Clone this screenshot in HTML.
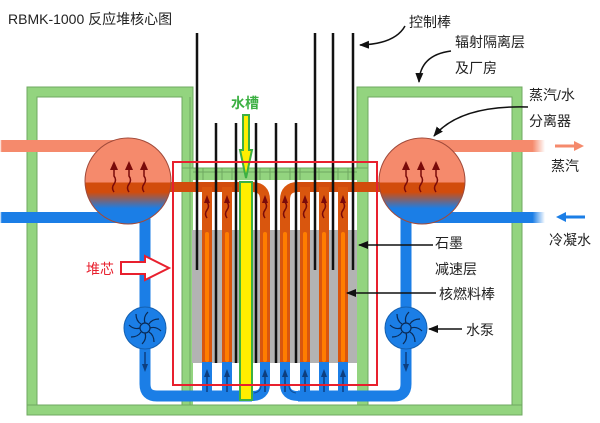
<!DOCTYPE html>
<html><head><meta charset="utf-8"><style>
body{margin:0;background:#fff}
svg{display:block}
text{font-family:"Liberation Sans","Noto Sans CJK SC",sans-serif;font-size:14px;fill:#222}
</style></head><body>
<svg width="600" height="423" viewBox="0 0 600 423" xmlns="http://www.w3.org/2000/svg">
<defs>
<linearGradient id="drum" x1="0" y1="0" x2="0" y2="1">
<stop offset="0" stop-color="#f58a6c"/><stop offset="0.52" stop-color="#f58a6c"/>
<stop offset="0.52" stop-color="#d24c0c"/><stop offset="0.63" stop-color="#d24c0c"/>
<stop offset="0.82" stop-color="#1b7ee6"/><stop offset="1" stop-color="#1b7ee6"/>
</linearGradient>
<linearGradient id="fadeL" x1="0" x2="1"><stop offset="0" stop-color="#fff"/><stop offset="0.06" stop-color="#fff" stop-opacity="0"/></linearGradient>
<linearGradient id="fadeR" x1="0" x2="1"><stop offset="0.9" stop-color="#fff" stop-opacity="0"/><stop offset="1" stop-color="#fff"/></linearGradient>
<marker id="ah" markerWidth="10" markerHeight="8" refX="9" refY="4" orient="auto" markerUnits="userSpaceOnUse"><path d="M0,0 L10,4 L0,8z" fill="#111"/></marker>
</defs>

<text x="8" y="24">RBMK-1000 反应堆核心图</text>

<!-- buildings -->
<rect x="27" y="87" width="166" height="328" fill="#93d47f" stroke="#6fa860" stroke-width="1"/>
<rect x="37" y="97" width="145" height="309" fill="#fff" stroke="#6fa860" stroke-width="1"/>
<rect x="357" y="87" width="165" height="328" fill="#93d47f" stroke="#6fa860" stroke-width="1"/>
<rect x="368" y="97" width="144" height="309" fill="#fff" stroke="#6fa860" stroke-width="1"/>
<rect x="182" y="168" width="186" height="247" fill="#93d47f" stroke="#6fa860" stroke-width="1"/>
<rect x="193" y="180" width="164" height="225" fill="#fff"/>
<line x1="190" y1="97" x2="190" y2="406" stroke="#6fa860" stroke-width="1"/>
<rect x="27" y="405" width="495" height="10" fill="#93d47f" stroke="#6fa860"/>
<!-- top cells -->
<g stroke="#6fa860" stroke-width="1">
<line x1="193" y1="172" x2="357" y2="172"/>
<line x1="203" y1="168" x2="203" y2="180"/><line x1="222" y1="168" x2="222" y2="180"/><line x1="232" y1="168" x2="232" y2="180"/>
<line x1="260" y1="168" x2="260" y2="180"/><line x1="270" y1="168" x2="270" y2="180"/><line x1="290" y1="168" x2="290" y2="180"/>
<line x1="300" y1="168" x2="300" y2="180"/><line x1="319" y1="168" x2="319" y2="180"/><line x1="338" y1="168" x2="338" y2="180"/><line x1="348" y1="168" x2="348" y2="180"/>
</g>

<!-- graphite -->
<rect x="192" y="230" width="165" height="133" fill="#b3b3b3"/>

<!-- pipes -->
<rect x="0" y="140" width="130" height="12" fill="#f58a6c"/>
<rect x="0" y="212" width="130" height="11" fill="#1b7ee6"/>
<rect x="0" y="138" width="30" height="90" fill="url(#fadeL)"/>
<rect x="420" y="140" width="125" height="12" fill="#f58a6c"/>
<rect x="420" y="212" width="125" height="11" fill="#1b7ee6"/>
<rect x="420" y="138" width="125" height="90" fill="url(#fadeR)"/>

<!-- downcomer & bottom header -->
<path d="M145,215 V384 Q145,396 157,396 H252 M298,396 H394 Q406,396 406,384 V215" fill="none" stroke="#1b7ee6" stroke-width="11"/>
<!-- top header -->
<path d="M150,187 H252 M298,187 H400" stroke="#d24c0c" stroke-width="10" fill="none"/>

<!-- channels -->
<g fill="none" stroke-width="10">
<g stroke="#d9560e">
<line x1="207" y1="187" x2="207" y2="363"/><line x1="227" y1="187" x2="227" y2="363"/>
<path d="M265,363 V200 Q265,187 252,187"/><path d="M285,363 V200 Q285,187 298,187"/>
<line x1="305" y1="187" x2="305" y2="363"/><line x1="324" y1="187" x2="324" y2="363"/><line x1="343" y1="187" x2="343" y2="363"/>
</g>
<g stroke="#1b7ee6">
<line x1="207" y1="362" x2="207" y2="396"/><line x1="227" y1="362" x2="227" y2="396"/>
<path d="M265,362 V384 Q265,396 252,396"/><path d="M285,362 V384 Q285,396 298,396"/>
<line x1="305" y1="362" x2="305" y2="396"/><line x1="324" y1="362" x2="324" y2="396"/><line x1="343" y1="362" x2="343" y2="396"/>
</g>
</g>
<path d="M261,385 Q261,392 254,393 M289,385 Q289,392 296,393" stroke="#0d4f9a" stroke-width="1" fill="none"/>
<!-- fuel rods -->
<g stroke="#ff7d00" stroke-width="4" stroke-linecap="round">
<line x1="207" y1="234" x2="207" y2="360"/><line x1="227" y1="234" x2="227" y2="360"/><line x1="265" y1="234" x2="265" y2="360"/>
<line x1="285" y1="234" x2="285" y2="360"/><line x1="305" y1="234" x2="305" y2="360"/><line x1="324" y1="234" x2="324" y2="360"/><line x1="343" y1="234" x2="343" y2="360"/>
</g>
<!-- wavy arrows in channels -->
<g fill="none" stroke="#7a0a0a" stroke-width="1.5">
<path d="M207,218 q-3,-4 0,-8 q3,-4 0,-8 M227,218 q-3,-4 0,-8 q3,-4 0,-8 M265,218 q-3,-4 0,-8 q3,-4 0,-8 M285,218 q-3,-4 0,-8 q3,-4 0,-8 M305,218 q-3,-4 0,-8 q3,-4 0,-8 M324,218 q-3,-4 0,-8 q3,-4 0,-8 M343,218 q-3,-4 0,-8 q3,-4 0,-8"/>
</g>
<g fill="#7a0a0a">
<path d="M204,203 l3,-8 l3,8z M224,203 l3,-8 l3,8z M262,203 l3,-8 l3,8z M282,203 l3,-8 l3,8z M302,203 l3,-8 l3,8z M321,203 l3,-8 l3,8z M340,203 l3,-8 l3,8z"/>
</g>
<g stroke="#0d3f80" stroke-width="1.5"><path d="M207,392 V374 M227,392 V374 M265,392 V374 M285,392 V374 M305,392 V374 M324,392 V374 M343,392 V374"/></g>
<g fill="#0d3f80"><path d="M204,377 l3,-8 l3,8z M224,377 l3,-8 l3,8z M262,377 l3,-8 l3,8z M282,377 l3,-8 l3,8z M302,377 l3,-8 l3,8z M321,377 l3,-8 l3,8z M340,377 l3,-8 l3,8z"/></g>

<!-- yellow water rod -->
<rect x="240" y="182" width="12" height="218" fill="#ffee00" stroke="#3cb043" stroke-width="2"/>
<path d="M243,115 H249 V150 H252 L246,178 L240,150 H243Z" fill="#ffee00" stroke="#3cb043" stroke-width="2"/>
<text x="231" y="108" style="font-size:14px;font-weight:bold;fill:#3cb043">水槽</text>

<!-- control rods -->
<g stroke="#111" stroke-width="2.5">
<line x1="197" y1="33" x2="197" y2="270"/>
<line x1="216" y1="123" x2="216" y2="363"/><line x1="236" y1="123" x2="236" y2="363"/>
<line x1="256" y1="123" x2="256" y2="363"/><line x1="276" y1="123" x2="276" y2="363"/><line x1="296" y1="123" x2="296" y2="363"/>
<line x1="315" y1="33" x2="315" y2="270"/><line x1="333" y1="33" x2="333" y2="270"/><line x1="353" y1="33" x2="353" y2="270"/>
</g>

<!-- drums -->
<circle cx="128" cy="181" r="43" fill="url(#drum)" stroke="#a04a3a" stroke-width="1"/>
<circle cx="422" cy="181" r="43" fill="url(#drum)" stroke="#a04a3a" stroke-width="1"/>
<g fill="none" stroke="#7a0a0a" stroke-width="1.5">
<path d="M114,192 q-3,-4 0,-8 q3,-4 0,-8 V168 M129,192 q-3,-4 0,-8 q3,-4 0,-8 V168 M144,192 q-3,-4 0,-8 q3,-4 0,-8 V168 M406,192 q-3,-4 0,-8 q3,-4 0,-8 V168 M421,192 q-3,-4 0,-8 q3,-4 0,-8 V168 M436,192 q-3,-4 0,-8 q3,-4 0,-8 V168"/>
</g>
<g fill="#7a0a0a"><path d="M110,170 l4,-9 l4,9z M125,170 l4,-9 l4,9z M140,170 l4,-9 l4,9z M402,170 l4,-9 l4,9z M417,170 l4,-9 l4,9z M432,170 l4,-9 l4,9z"/></g>

<!-- pumps -->
<g>
<circle cx="145" cy="328" r="21" fill="#1b7ee6" stroke="#1560b0"/>
<circle cx="145" cy="328" r="5" fill="none" stroke="#0a2a55" stroke-width="1.2"/>
<g stroke="#0a2a55" stroke-width="1.2" fill="none">
<path d="M150,328 q6,-2 11,3 M145,333 q2,6 -3,11 M140,328 q-6,2 -11,-3 M145,323 q-2,-6 3,-11 M149,332 q5,3 5,10 M141,332 q-3,5 -10,5 M141,324 q-5,-3 -5,-10 M149,324 q3,-5 10,-5"/>
</g>
<circle cx="406" cy="328" r="21" fill="#1b7ee6" stroke="#1560b0"/>
<circle cx="406" cy="328" r="5" fill="none" stroke="#0a2a55" stroke-width="1.2"/>
<g stroke="#0a2a55" stroke-width="1.2" fill="none">
<path d="M411,328 q6,-2 11,3 M406,333 q2,6 -3,11 M401,328 q-6,2 -11,-3 M406,323 q-2,-6 3,-11 M410,332 q5,3 5,10 M402,332 q-3,5 -10,5 M402,324 q-5,-3 -5,-10 M410,324 q3,-5 10,-5"/>
</g>
<path d="M145,352 V366 M406,352 V366" stroke="#0d3f80" stroke-width="1.5"/>
<path d="M142,364 l3,8 l3,-8z M403,364 l3,8 l3,-8z" fill="#0d3f80"/>
</g>

<!-- core rect -->
<rect x="173" y="162" width="204" height="223" fill="none" stroke="#e8202e" stroke-width="2"/>
<!-- core arrow -->
<path d="M121,262 H145 V256 L169,268 L145,280 V274 H121Z" fill="#fff" stroke="#e8202e" stroke-width="2"/>
<text x="86" y="274" style="fill:#e8202e">堆芯</text>

<!-- right side arrows & labels -->
<g stroke="#111" stroke-width="1.5" fill="none">
<path d="M405,26 Q395,44 360,45" marker-end="url(#ah)"/>
<path d="M451,51 Q420,55 419,82" marker-end="url(#ah)"/>
<path d="M528,107 Q460,105 434,136" marker-end="url(#ah)"/>
<line x1="433" y1="245" x2="359" y2="245" marker-end="url(#ah)"/>
<line x1="436" y1="293" x2="347" y2="293" marker-end="url(#ah)"/>
<line x1="462" y1="329" x2="429" y2="329" marker-end="url(#ah)"/>
</g>
<text x="409" y="27">控制棒</text>
<text x="455" y="47">辐射隔离层</text>
<text x="455" y="73">及厂房</text>
<text x="529" y="100">蒸汽/水</text>
<text x="529" y="126">分离器</text>
<text x="551" y="171">蒸汽</text>
<text x="549" y="245">冷凝水</text>
<text x="435" y="248">石墨</text>
<text x="435" y="274">减速层</text>
<text x="439" y="299">核燃料棒</text>
<text x="466" y="335">水泵</text>
<path d="M555,146 H576" stroke="#f58a6c" stroke-width="3"/><path d="M574,141 L584,146 L574,151z" fill="#f58a6c"/>
<path d="M566,217 H585" stroke="#1b7ee6" stroke-width="3"/><path d="M566,212 L556,217 L566,222z" fill="#1b7ee6"/>
</svg>
</body></html>
